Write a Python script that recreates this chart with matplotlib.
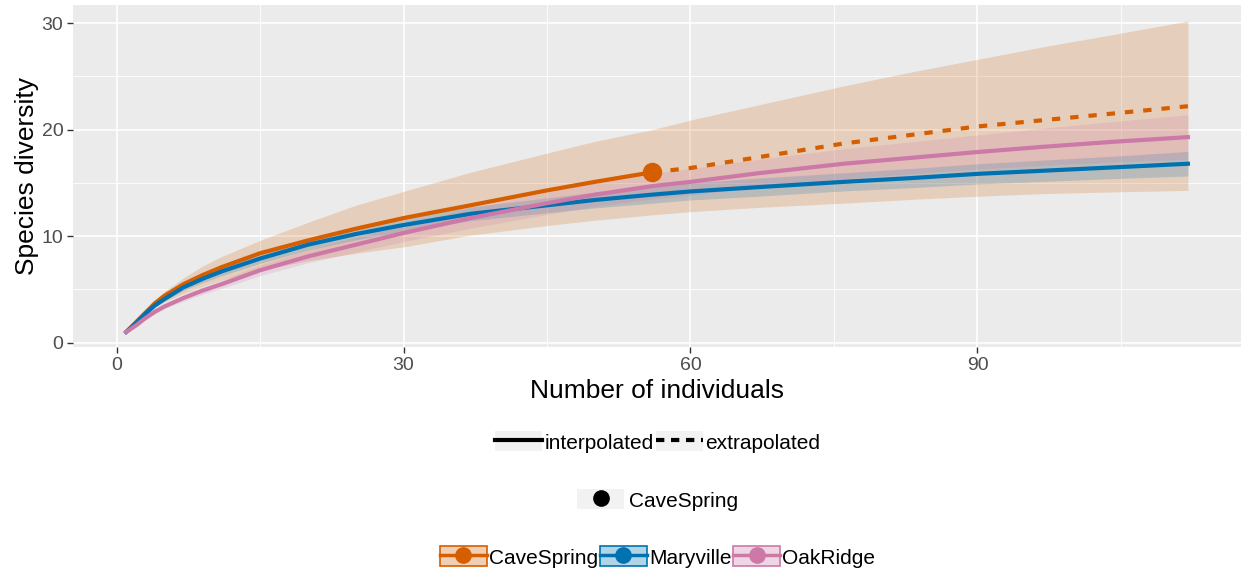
import matplotlib
matplotlib.use("Agg")
import matplotlib.pyplot as plt
from matplotlib.lines import Line2D
from matplotlib.patches import Rectangle
from matplotlib.ticker import MultipleLocator

plt.rcParams['font.family'] = ['Liberation Sans', 'DejaVu Sans']

# sample sizes (number of individuals)
m = [1, 2, 3, 4, 5, 7, 9, 11, 15, 20, 25, 30, 37, 45, 50, 56,
     60, 67, 76, 83, 90, 97, 104, 112]
cave_n = 56  # observed sample size of CaveSpring

cave = [1.0, 1.9, 2.8, 3.7, 4.4, 5.5, 6.35, 7.1, 8.4, 9.6, 10.7, 11.7, 12.9, 14.3, 15.1, 16.0,
        16.4, 17.4, 18.7, 19.5, 20.3, 20.9, 21.5, 22.2]
cave_lo = [1.0, 1.8, 2.6, 3.3, 3.8, 4.6, 5.3, 5.9, 6.8, 7.7, 8.4, 9.0, 10.1, 11.0, 11.5, 12.0,
           12.3, 12.7, 13.1, 13.45, 13.75, 14.0, 14.15, 14.3]
cave_hi = [1.0, 2.0, 3.0, 4.0, 4.8, 6.1, 7.2, 8.1, 9.6, 11.3, 12.9, 14.2, 16.0, 17.8, 18.9, 20.0,
           20.9, 22.3, 24.1, 25.4, 26.6, 27.8, 28.9, 30.2]

mary = [1.0, 1.8, 2.7, 3.5, 4.1, 5.2, 6.0, 6.7, 7.9, 9.2, 10.2, 11.05, 12.1, 12.9, 13.4, 13.9,
        14.2, 14.6, 15.1, 15.45, 15.85, 16.15, 16.45, 16.8]
mary_lo = [1.0, 1.7, 2.6, 3.3, 3.9, 4.9, 5.65, 6.3, 7.45, 8.7, 9.65, 10.45, 11.45, 12.2, 12.65,
           13.1, 13.4, 13.75, 14.25, 14.55, 14.9, 15.15, 15.4, 15.65]
mary_hi = [1.0, 1.9, 2.8, 3.7, 4.3, 5.5, 6.35, 7.1, 8.35, 9.7, 10.75, 11.65, 12.75, 13.6, 14.15,
           14.7, 15.0, 15.45, 15.95, 16.35, 16.8, 17.15, 17.5, 17.95]

oak = [1.0, 1.6, 2.3, 2.9, 3.4, 4.2, 4.9, 5.5, 6.8, 8.1, 9.2, 10.3, 11.7, 13.1, 13.9, 14.7,
       15.1, 15.9, 16.8, 17.35, 17.9, 18.4, 18.85, 19.3]
oak_lo = [1.0, 1.5, 2.15, 2.7, 3.2, 3.9, 4.55, 5.1, 6.3, 7.5, 8.5, 9.5, 10.75, 12.05, 12.8, 13.5,
          13.85, 14.6, 15.4, 15.85, 16.3, 16.65, 16.95, 17.2]
oak_hi = [1.0, 1.7, 2.45, 3.1, 3.6, 4.5, 5.25, 5.9, 7.3, 8.7, 9.9, 11.1, 12.65, 14.15, 15.0, 15.9,
          16.35, 17.2, 18.2, 18.85, 19.5, 20.15, 20.75, 21.4]

sites = ['CaveSpring', 'Maryville', 'OakRidge']
colors = ['#D55E00', '#0072B2', '#CC79A7']

fig = plt.figure(figsize=(12.43, 5.75), dpi=100)
ax = fig.add_axes([73 / 1243, 1 - 347 / 575, (1241 - 73) / 1243, 342 / 575])
ax.set_facecolor('#EBEBEB')
for s in ax.spines.values():
    s.set_visible(False)

# ribbons
ax.fill_between(m, cave_lo, cave_hi, color=colors[0], alpha=0.2, lw=0, zorder=2)
ax.fill_between(m, mary_lo, mary_hi, color=colors[1], alpha=0.2, lw=0, zorder=2)
ax.fill_between(m, oak_lo, oak_hi, color=colors[2], alpha=0.2, lw=0, zorder=2)

# lines
interp = [i for i, v in enumerate(m) if v <= cave_n]
extrap = [i for i, v in enumerate(m) if v >= cave_n]
ax.plot([m[i] for i in interp], [cave[i] for i in interp], color=colors[0], lw=3, zorder=4,
        solid_capstyle='butt')
ax.plot([m[i] for i in extrap], [cave[i] for i in extrap], color=colors[0], lw=3, zorder=4,
        ls=(0, (2.0, 2.4)), dash_capstyle='butt')
ax.plot(m, mary, color=colors[1], lw=3, zorder=5)
ax.plot(m, oak, color=colors[2], lw=3, zorder=6)
ax.plot([cave_n], [cave[m.index(cave_n)]], 'o', color=colors[0], ms=13, zorder=7)

ax.set_xlim(1 - 5.55, 112 + 5.55)
ax.set_ylim(-0.4, 31.7)
ax.xaxis.set_major_locator(MultipleLocator(30))
ax.xaxis.set_minor_locator(MultipleLocator(15))
ax.yaxis.set_major_locator(MultipleLocator(10))
ax.yaxis.set_minor_locator(MultipleLocator(5))
ax.grid(which='major', color='white', lw=1.2)
ax.grid(which='minor', color='white', lw=0.6)
ax.set_axisbelow(True)
ax.tick_params(which='major', length=4, width=1, color='#333333', labelcolor='#4D4D4D',
               labelsize=14, pad=3)
ax.tick_params(which='minor', length=0)

ax.set_xlabel('Number of individuals', fontsize=19, labelpad=4)
ax.set_ylabel('Species diversity', fontsize=19, labelpad=2)

# legends
key_bg = '#F2F2F2'
h1 = [(Rectangle((0, 0), 1, 1, fc=key_bg, ec='none'), Line2D([], [], color='black', lw=3)),
      (Rectangle((0, 0), 1, 1, fc=key_bg, ec='none'),
       Line2D([], [], color='black', lw=3, ls=(0, (2.0, 1.6))))]
leg1 = fig.legend(h1, ['interpolated', 'extrapolated'], loc='center', ncol=2,
                  bbox_to_anchor=(0.529, 1 - 442 / 575), frameon=False, fontsize=15,
                  handlelength=2.25, handleheight=1.1, handletextpad=0.1,
                  columnspacing=0.1, borderpad=0)

h2 = [(Rectangle((0, 0), 1, 1, fc=key_bg, ec='none'),
       Line2D([], [], ls='none', marker='o', color='black', ms=11))]
leg2 = fig.legend(h2, ['CaveSpring'], loc='center',
                  bbox_to_anchor=(0.529, 1 - 500 / 575), frameon=False, fontsize=15,
                  handlelength=2.25, handleheight=1.1, handletextpad=0.2, borderpad=0)

h3 = [(Rectangle((0, 0), 1, 1, fc=c, alpha=0.3, ec='none'),
       Rectangle((0, 0), 1, 1, fc='none', ec=c, lw=1.2),
       Line2D([], [], color=c, lw=2.5, marker='o', ms=11)) for c in colors]
leg3 = fig.legend(h3, sites, loc='center', ncol=3,
                  bbox_to_anchor=(0.529, 1 - 557 / 575), frameon=False, fontsize=15,
                  handlelength=2.25, handleheight=1.1, handletextpad=0.1,
                  columnspacing=0.1, borderpad=0)

fig.savefig('out.png', dpi=100)
